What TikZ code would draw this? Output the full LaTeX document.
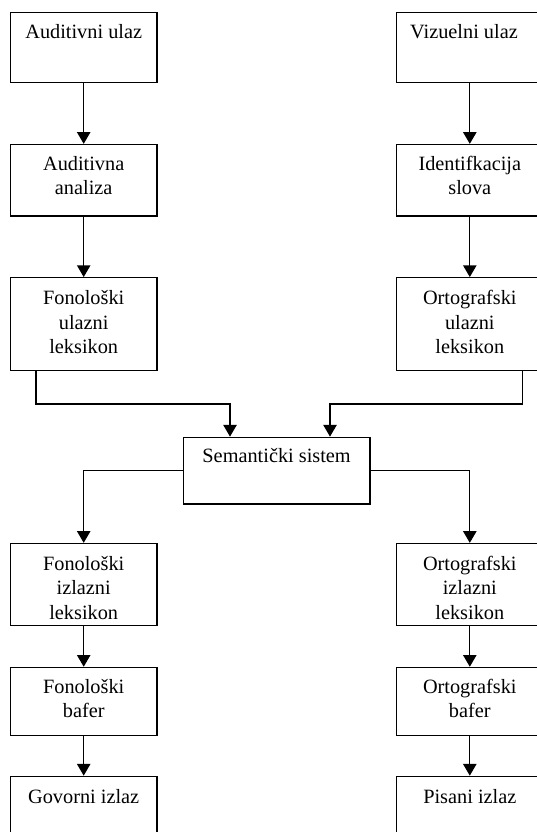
\documentclass[tikz,border=0pt]{standalone}
\usepackage{fontspec}
\setmainfont{Liberation Serif}
\usetikzlibrary{arrows.meta,calc}
\newcommand{\mlines}[1]{\begin{tabular}[t]{@{}c@{}}#1\end{tabular}}
\begin{document}
\begin{tikzpicture}[x=1pt,y=-1pt,
  boxnode/.style={draw,line width=1.3pt,rectangle,inner sep=0pt,minimum width=146.8pt},
  txt/.style={anchor=base,inner sep=0pt,font=\fontsize{20.3}{24.5}\selectfont},
  arr/.style={line width=1.3pt,-{Triangle[length=11.7pt,width=13.3pt]}},
  ln/.style={line width=1.3pt}]
\useasboundingbox (0,0) rectangle (537,832);
\clip (0,0) rectangle (537,832);
% left column
\node[boxnode,minimum height=70pt]   (a1) at (83.7,47.2) {};
\node[boxnode,minimum height=71.5pt] (a2) at (83.7,180.25) {};
\node[boxnode,minimum height=93pt]   (a3) at (83.7,324.2) {};
\node[boxnode,minimum height=82.1pt] (a4) at (83.7,584.55) {};
\node[boxnode,minimum height=68.1pt] (a5) at (83.7,701.45) {};
\node[boxnode,minimum height=83.7pt] (a6) at (83.7,818.15) {};
% right column
\node[boxnode,minimum height=70pt]   (b1) at (469.8,47.2) {};
\node[boxnode,minimum height=71.5pt] (b2) at (469.8,180.25) {};
\node[boxnode,minimum height=93pt]   (b3) at (469.8,324.2) {};
\node[boxnode,minimum height=82.1pt] (b4) at (469.8,584.55) {};
\node[boxnode,minimum height=68.1pt] (b5) at (469.8,701.45) {};
\node[boxnode,minimum height=83.7pt] (b6) at (469.8,818.15) {};
% semantic
\node[boxnode,minimum width=186.6pt,minimum height=66.7pt] (sem) at (276.6,470.65) {};
% texts
\node[txt] (ta1) at (83.7,38.3) {Auditivni ulaz};
\node[txt] (ta2) at (83.7,170) {\mlines{Auditivna\\analiza}};
\node[txt] (ta3) at (83.7,304.5) {\mlines{Fonološki\\ulazni\\leksikon}};
\node[txt] (ta4) at (83.7,570) {\mlines{Fonološki\\izlazni\\leksikon}};
\node[txt] (ta5) at (83.7,693) {\mlines{Fonološki\\bafer}};
\node[txt] (ta6) at (83.7,803) {Govorni izlaz};
\node[txt] (tb1) at (464,38.3) {Vizuelni ulaz};
\node[txt] (tb2) at (469.8,170) {\mlines{Identifkacija\\slova}};
\node[txt] (tb3) at (469.8,304.5) {\mlines{Ortografski\\ulazni\\leksikon}};
\node[txt] (tb4) at (469.8,570) {\mlines{Ortografski\\izlazni\\leksikon}};
\node[txt] (tb5) at (469.8,693) {\mlines{Ortografski\\bafer}};
\node[txt] (tb6) at (469.8,803) {Pisani izlaz};
\node[txt] (tsem) at (276.6,462.7) {Semantički sistem};
% connectors
\draw[arr] (a1) -- (a2);
\draw[arr] (a2) -- (a3);
\draw[arr] (a4) -- (a5);
\draw[arr] (a5) -- (a6);
\draw[arr] (b1) -- (b2);
\draw[arr] (b2) -- (b3);
\draw[arr] (b4) -- (b5);
\draw[arr] (b5) -- (b6);
\coordinate (jl) at (230,404);
\coordinate (jr) at (330,404);
\draw[arr] ($(a3.south west)+(26.4,0)$) |- (jl) -- (jl |- sem.north);
\draw[arr] ($(b3.south west)+(126.4,0)$) |- (jr) -- (jr |- sem.north);
\draw[arr] (sem.west) -| (a4.north);
\draw[arr] (sem.east) -| (b4.north);
\end{tikzpicture}
\end{document}
